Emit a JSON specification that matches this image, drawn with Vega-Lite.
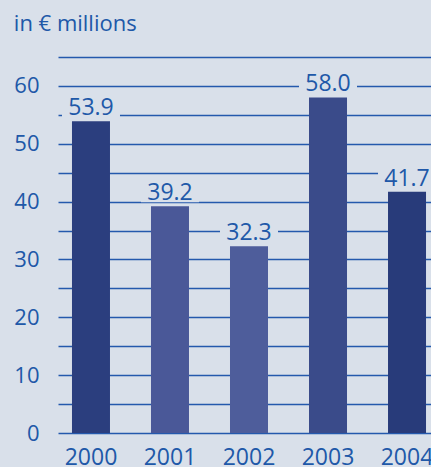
{
  "$schema": "https://vega.github.io/schema/vega-lite/v6.json",
  "autosize": "none",
  "width": 373,
  "height": 376,
  "padding": {"left": 58, "top": 57, "right": 0, "bottom": 34},
  "background": "#d9e0ea",
  "config": {
    "view": {"stroke": null},
    "font": "Open Sans"
  },
  "title": {
    "text": "in € millions",
    "anchor": "start",
    "frame": "bounds",
    "orient": "top",
    "offset": 10,
    "fontSize": 22,
    "fontWeight": "normal",
    "color": "#2058a8",
    "font": "Open Sans"
  },
  "data": {
    "values": [
      {"year": "2000", "value": 53.9, "label": "53.9"},
      {"year": "2001", "value": 39.2, "label": "39.2"},
      {"year": "2002", "value": 32.3, "label": "32.3"},
      {"year": "2003", "value": 58.0, "label": "58.0"},
      {"year": "2004", "value": 41.7, "label": "41.7"}
    ]
  },
  "encoding": {
    "x": {
      "field": "year",
      "type": "nominal",
      "scale": {"range": [0, 382], "paddingInner": 0.519, "paddingOuter": 0.177},
      "axis": {
        "title": null,
        "domain": false,
        "ticks": false,
        "labelAngle": 0,
        "labelFontSize": 23,
        "labelColor": "#2058a8",
        "labelPadding": 13,
        "labelFont": "Open Sans"
      }
    },
    "y": {
      "field": "value",
      "type": "quantitative",
      "scale": {"domain": [0, 65], "nice": false},
      "axis": {
        "title": null,
        "domain": false,
        "ticks": false,
        "values": [0, 5, 10, 15, 20, 25, 30, 35, 40, 45, 50, 55, 60, 65],
        "labelExpr": "datum.value % 10 == 0 ? datum.label : ''",
        "labelOverlap": false,
        "labelFontSize": 22,
        "labelColor": "#2058a8",
        "labelPadding": 19,
        "labelFont": "Open Sans",
        "grid": true,
        "gridColor": "#2459ad",
        "gridWidth": 1.5,
        "gridOpacity": 1
      }
    }
  },
  "layer": [
    {
      "mark": {"type": "bar"},
      "encoding": {
        "color": {
          "field": "year",
          "type": "nominal",
          "legend": null,
          "scale": {"range": ["#2b3e7e", "#4a5898", "#4e5d9b", "#3a4b8a", "#283b7a"]}
        }
      }
    },
    {
      "mark": {"type": "bar", "width": 58, "color": "#d9e0ea", "yOffset": -29, "y2Offset": -4},
      "encoding": {
        "y2": {"field": "value"}
      }
    },
    {
      "mark": {"type": "text", "dy": -6, "baseline": "alphabetic", "fontSize": 23, "color": "#2058a8", "font": "Open Sans"},
      "encoding": {
        "text": {"field": "label"}
      }
    }
  ]
}
